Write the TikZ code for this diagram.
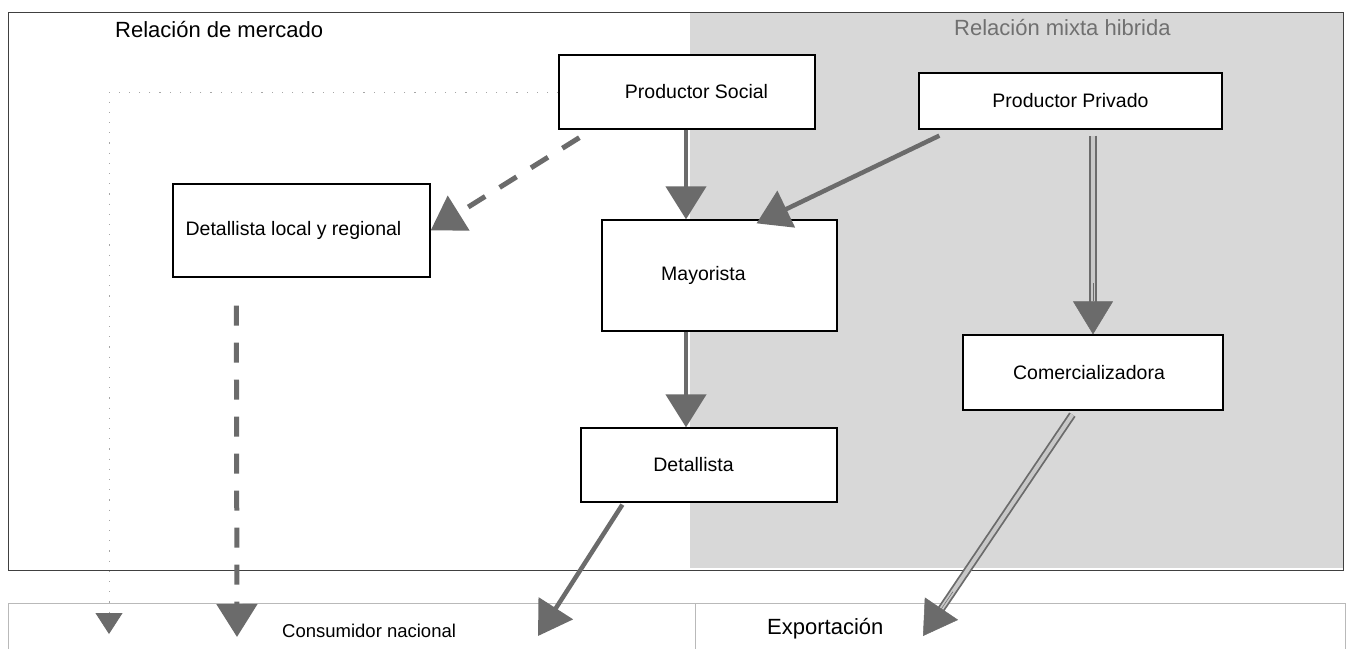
\documentclass[tikz,border=0pt]{standalone}
\usepackage{fontspec}
\setmainfont{Liberation Sans}
\usetikzlibrary{arrows.meta,calc}
\definecolor{arrowgray}{HTML}{6B6B6B}
\definecolor{regiongray}{HTML}{D8D8D8}
\definecolor{titlegray}{HTML}{707070}
\definecolor{dblin}{HTML}{C8C8C8}
\begin{document}
\begin{tikzpicture}[x=1pt,y=-1pt,
 box/.style={draw=black, line width=1.3pt, fill=white, inner sep=0pt, font=\fontsize{19.5}{23}\selectfont},
 lbl/.style={inner sep=0pt, anchor=base west},
 lowbox/.style={draw=gray!55, line width=0.9pt, inner sep=0pt, anchor=north west},
 bigtip/.style={-{Triangle[width=40pt,length=33pt]}},
 solidarrow/.style={draw=arrowgray, line width=4.5pt, bigtip},
 dasharrow/.style={draw=arrowgray, line width=5pt, dash pattern=on 20pt off 17pt, bigtip},
 dblline/.style={draw=arrowgray, line width=1.8pt, double=dblin, double distance=4pt},
 tiponly/.style={draw=arrowgray, line width=0.5pt, bigtip},
 dotline/.style={draw=gray!70, line width=0.8pt, dash pattern=on 1.2pt off 9pt},
 frame/.style={draw=black!75, line width=1pt}
]
\useasboundingbox (0,0) rectangle (1351,648);
\fill[white] (0,0) rectangle (1351,648);
\fill[regiongray] (690,12) rectangle (1343,568);
\draw[frame] (8,12) rectangle (1343,570);

% bottom boxes
\node[lowbox, minimum width=687pt, minimum height=50pt] (cons) at (8,603) {};
\node[lowbox, minimum width=650pt, minimum height=50pt] (exp) at (695,603) {};
\node[lbl, font=\fontsize{18.5}{22}\selectfont] (consl) at (282,637) {Consumidor nacional};
\node[lbl, font=\fontsize{22}{26}\selectfont] (expl) at (767,634) {Exportación};

% region titles
\node[lbl, font=\fontsize{22}{26}\selectfont] (rm) at (115,37) {Relación de mercado};
\node[lbl, text=titlegray, font=\fontsize{22}{26}\selectfont] (rmh) at (954,35) {Relación mixta hibrida};

% boxes
\node[box, minimum width=256pt, minimum height=74pt] (ps) at (687,92) {\hspace*{19pt}Productor Social};
\node[box, minimum width=303pt, minimum height=56pt] (pp) at (1070.5,101) {Productor Privado};
\node[box, minimum width=257pt, minimum height=93pt] (dll) at (301.5,230.5) {Detallista local y regional\hspace*{16pt}};
\node[box, minimum width=235pt, minimum height=111pt] (may) at (719.5,275.5) {Mayorista\hspace*{32pt}};
\node[box, minimum width=256pt, minimum height=74pt] (det) at (709,465) {Detallista\hspace*{31pt}};
\node[box, minimum width=260pt, minimum height=75pt] (com) at (1093,372.5) {Comercializadora\hspace*{8pt}};

% coordinates
\coordinate (colx) at (686,0);
\coordinate (tcons1) at (109,634);
\coordinate (tcons2) at (237,637);
\coordinate (tcons3) at (538,636);
\coordinate (texp) at (923,636);
\coordinate (comS) at ([xshift=110pt,yshift=-4pt]com.south west);
\coordinate (ppS) at (com.north |- pp.south);

% dotted connector
\draw[dotline, -{Triangle[width=27pt,length=21pt,color=arrowgray]}] (ps.west) -- (ps.west -| tcons1) -- (tcons1);

% arrows
\draw[solidarrow] (ps.south -| colx) -- (may.north -| colx);
\draw[solidarrow] (may.south -| colx) -- (det.north -| colx);
\draw[solidarrow] ([xshift=21pt,yshift=-6pt]pp.south west) -- ([xshift=37pt,yshift=-4pt]may.north);
\draw[dasharrow] ([xshift=21pt,yshift=-8pt]ps.south west) -- (dll.east);
\draw[dasharrow] ([xshift=64pt,yshift=-28pt]dll.south west) -- (tcons2);
\draw[solidarrow] ([xshift=42pt,yshift=-2pt]det.south west) -- (tcons3);

% double arrows
\draw[dblline, shorten <=6pt, shorten >=28pt] (ppS) -- (com.north);
\draw[tiponly] ($(ppS)!0.75!(com.north)$) -- (com.north);
\draw[dblline, shorten >=28pt] (comS) -- (texp);
\draw[tiponly] ($(comS)!0.8!(texp)$) -- (texp);
\end{tikzpicture}
\end{document}
